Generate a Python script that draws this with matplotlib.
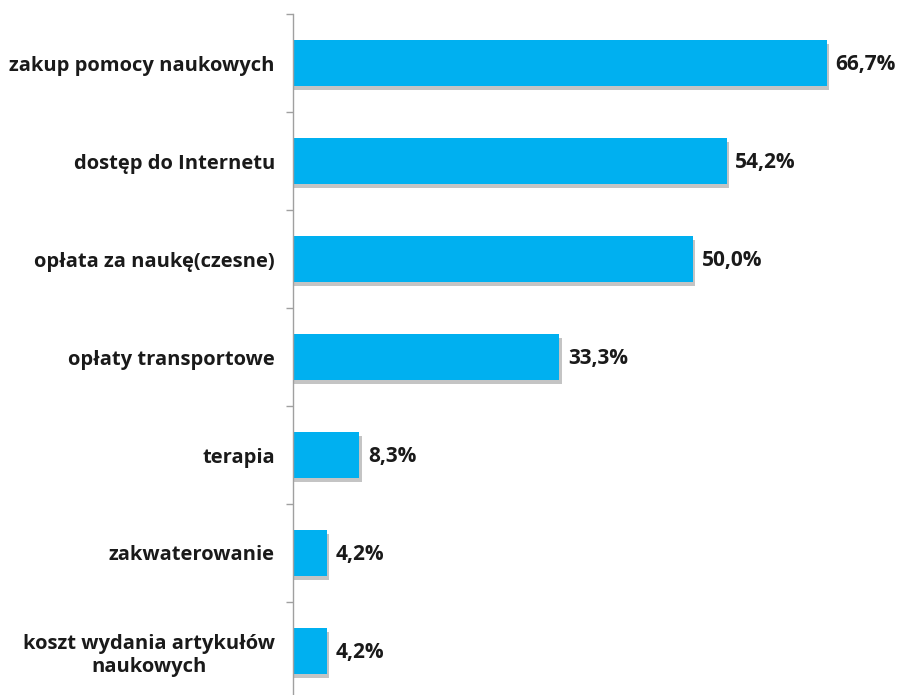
import matplotlib
matplotlib.use("Agg")
import matplotlib.pyplot as plt

categories = [
    "zakup pomocy naukowych",
    "dostęp do Internetu",
    "opłata za naukę(czesne)",
    "opłaty transportowe",
    "terapia",
    "zakwaterowanie",
    "koszt wydania artykułów\nnaukowych",
]
values = [66.7, 54.2, 50.0, 33.3, 8.3, 4.2, 4.2]
value_labels = ["66,7%", "54,2%", "50,0%", "33,3%", "8,3%", "4,2%", "4,2%"]

plt.rcParams["font.family"] = ["Open Sans", "DejaVu Sans"]

W, H = 901, 695
fig = plt.figure(figsize=(W / 100, H / 100), dpi=100)
# axis spans from the first category boundary to just below the figure bottom
left, top_px, bot_px = 293, 14, 700
ax = fig.add_axes([left / W, 1 - bot_px / H, (W - left) / W, (bot_px - top_px) / H])

n = len(categories)
ypos = list(range(n))
bar_h = 0.47

# drop shadow under each bar
ax.barh([y + 0.04 for y in ypos], [v + 0.3 for v in values], height=bar_h,
        color="#c4c4c4", zorder=1)
ax.barh(ypos, values, height=bar_h, color="#00B0F0", zorder=2)

for y, v, lab in zip(ypos, values, value_labels):
    ax.text(v + 1.1, y + 0.02, lab, va="center", ha="left", fontsize=15,
            fontweight="bold", color="#1a1a1a")

ax.set_xlim(0, (W - left) / 8.0)
ax.set_ylim(n - 0.5, -0.5)

ax.set_yticks([y - 0.5 for y in range(n + 1)], minor=False)
ax.set_yticklabels([])
ax.set_yticks(ypos, minor=True)
ax.set_yticklabels(categories, minor=True, fontsize=14.5, fontweight="bold",
                   color="#1a1a1a", linespacing=1.25)
ax.tick_params(axis="y", which="minor", length=0, pad=13)
ax.tick_params(axis="y", which="major", length=5, color="#a0a0a0", width=1)
for lbl in ax.get_yticklabels(minor=True):
    lbl.set_multialignment("center")

ax.set_xticks([])
for s in ["top", "right", "bottom"]:
    ax.spines[s].set_visible(False)
ax.spines["left"].set_color("#a0a0a0")
ax.spines["left"].set_linewidth(1)

fig.savefig("out.png", dpi=100)
